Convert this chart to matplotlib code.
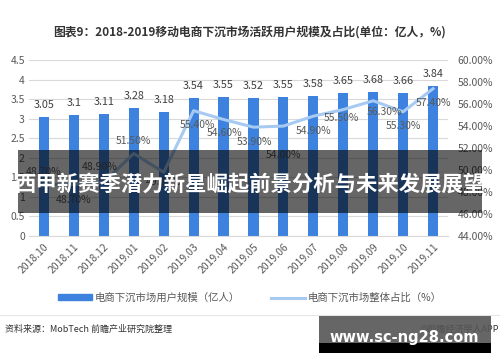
import numpy as np
import matplotlib
matplotlib.use('Agg')
import matplotlib.pyplot as plt
from matplotlib.patches import Rectangle
from matplotlib.lines import Line2D
from matplotlib.patches import Patch

plt.rcParams['font.family'] = ['Noto Sans CJK SC', 'DejaVu Sans']

# 数据
months = ['2018.10', '2018.11', '2018.12', '2019.01', '2019.02', '2019.03', '2019.04',
          '2019.05', '2019.06', '2019.07', '2019.08', '2019.09', '2019.10', '2019.11']
users = [3.05, 3.1, 3.11, 3.28, 3.18, 3.54, 3.55, 3.52, 3.55, 3.58, 3.65, 3.68, 3.66, 3.84]
share = [48.7, 48.7, 48.9, 51.5, 49.8, 55.4, 54.6, 53.9, 54.0, 54.9, 55.5, 56.3, 55.3, 57.4]

# 标签偏移（像素）
share_dx = [0, 0, -4, 0, 0, 4, 1, 1, 0, 0, -2, 11, 0, 0]
share_dy = [12, -16, 15, 13, -10, -14, -14, -15, -29, -15, -8, -11, -14, -14]

bar_color = '#3C82DE'
line_color = '#A6CAF2'
text_color = '#595959'

fig = plt.figure(figsize=(5, 3.62), dpi=100)
ax = fig.add_axes([0.058, 0.348, 0.838, 0.486])
ax2 = ax.twinx()

x = np.arange(len(months))
ax.bar(x, users, width=0.34, color=bar_color, zorder=2)
for xi, v in zip(x, users):
    ax.annotate(f'{v:g}', (xi, v), xytext=(0, 12 * 0.72), textcoords='offset points',
                ha='center', va='center', fontsize=7.8, color='#404040')

ax2.plot(x, share, color=line_color, lw=2.2, zorder=3)
for xi, v, dx, dy in zip(x, share, share_dx, share_dy):
    ax2.annotate(f'{v:.2f}%', (xi, v), xytext=(dx * 0.72, dy * 0.72), textcoords='offset points',
                 ha='center', va='center', fontsize=7.5, color=text_color)

ax.set_xlim(-0.5, len(months) - 0.5)
ax.set_ylim(0, 4.5)
ax.set_yticks(np.arange(0, 4.51, 0.5))
ax.set_yticklabels([f'{t:g}' for t in np.arange(0, 4.51, 0.5)])
ax2.set_ylim(44, 60)
ax2.set_yticks(np.arange(44, 60.1, 2))
ax2.set_yticklabels([f'{t:.2f}%' for t in np.arange(44, 60.1, 2)])

ax.set_xticks(x)
ax.set_xticklabels(months, rotation=45, ha='right', rotation_mode='anchor')
ax.grid(axis='y', color='#D9D9D9', lw=0.8, zorder=0)
ax.set_axisbelow(True)
for a in (ax, ax2):
    for s in a.spines.values():
        s.set_visible(False)
    a.tick_params(length=0, labelsize=7.5, colors=text_color)
ax.spines['bottom'].set_visible(True)
ax.spines['bottom'].set_color('#D9D9D9')
ax.tick_params(axis='y', pad=3)
ax.tick_params(axis='x', pad=4)
ax2.tick_params(axis='y', pad=7)

fig.text(0.5, 0.912, '图表9：2018-2019移动电商下沉市场活跃用户规模及占比(单位：亿人，%)',
         ha='center', va='center', fontsize=8.5, fontweight='bold', color='#333333')

handles = [Patch(color=bar_color), Line2D([0], [0], color=line_color, lw=2.2)]
fig.legend(handles, ['电商下沉市场用户规模（亿人）', '电商下沉市场整体占比（%）'],
           loc='center', bbox_to_anchor=(0.5, 0.177), ncol=2, frameon=False,
           fontsize=7.5, labelcolor=text_color, handlelength=3.2, handleheight=0.5,
           columnspacing=3, handletextpad=0.3)

fig.add_artist(Line2D([0, 1], [0.13, 0.13], color='#E6E6E6', lw=0.8, transform=fig.transFigure))
fig.text(0.01, 0.0912, '资料来源：MobTech 前瞻产业研究院整理', ha='left', va='center',
         fontsize=6.5, color='#333333')
fig.text(0.998, 0.0912, '@前瞻经济学人APP', ha='right', va='center', fontsize=6.5, color='#333333')

# 覆盖横幅
fig.add_artist(Rectangle((0.036, 0.412), 0.928, 0.174, transform=fig.transFigure,
                         color='black', alpha=0.6, lw=0, zorder=10))
fig.text(0.5, 0.492, '西甲新赛季潜力新星崛起前景分析与未来发展展望', ha='center', va='center',
         fontsize=15.4, fontweight='bold', color='white', zorder=11)

fig.add_artist(Rectangle((0.638, 0.0525), 0.344, 0.0746, transform=fig.transFigure,
                         color='#555555', alpha=0.9, lw=0, zorder=10))
fig.add_artist(Rectangle((0.638, 0.0249), 0.344, 0.0276, transform=fig.transFigure,
                         color='black', lw=0, zorder=10))
fig.text(0.809, 0.069, 'www.sc-ng28.com', ha='center', va='center', fontsize=10.5,
         fontweight='bold', color='white', family='DejaVu Sans', zorder=11)

fig.savefig('out.png', dpi=100)
